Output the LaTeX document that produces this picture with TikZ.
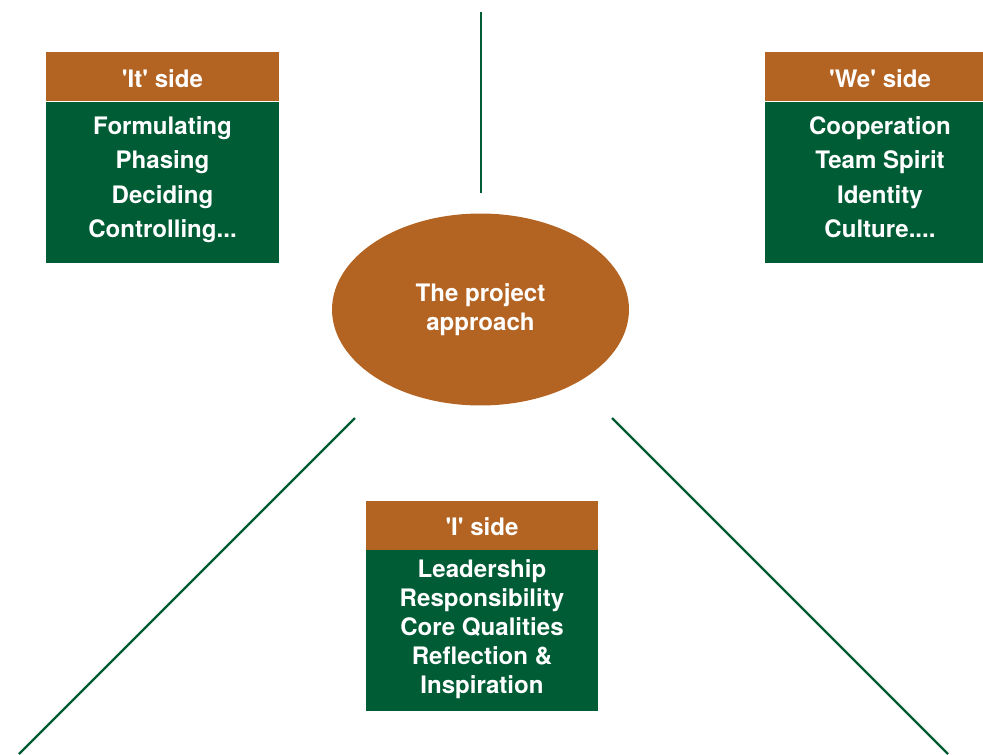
\documentclass[tikz,border=0pt]{standalone}
\usepackage{fontspec}
\setmainfont{TeX Gyre Heros}
\usetikzlibrary{positioning, shapes.geometric}
\definecolor{rust}{HTML}{B36322}
\definecolor{pine}{HTML}{005C35}
\newcommand{\sq}{\textquotesingle}
\tikzset{
side head/.style = { rectangle, fill = rust, text = white, minimum height = 0.98cm, inner sep = 0pt, text height = 12pt, text depth = 0pt, font = \fontsize{13.7}{16}\selectfont\bfseries },
side body/.style = { rectangle, fill = pine, text = white, minimum height = 3.22cm, inner sep = 0pt, align = center, execute at begin node = \strut, execute at end node = \strut, font = \fontsize{13.7}{19.6}\selectfont\bfseries },
core/.style = { ellipse, fill = rust, text = white, minimum width = 5.94cm, minimum height = 3.84cm, align = center, font = \fontsize{13.7}{16.4}\selectfont\bfseries },
axis/.style = { draw = pine, line width = 1.3pt },
}

\begin{document}
\begin{tikzpicture}[x = 0.02cm, y = -0.02cm]
    \useasboundingbox (0, 0) rectangle (983, 754);
    % centre
    \node[core] (approach) at (480.5, 309.5) {The project\\approach};
    % three sides
    \node[side head, minimum width = 4.66cm] (ithead) at (162.5, 76.5) {\sq It\sq{} side};
    \node[side body, minimum width = 4.66cm, below = 0pt of ithead] (itbody) {Formulating\\Phasing\\Deciding\\Controlling...};
    \node[side head, minimum width = 4.6cm] (wehead) at (880, 76.5) {\sq We\sq{} side};
    \node[side body, minimum width = 4.6cm, below = 0pt of wehead] (webody) {Cooperation\\Team Spirit\\Identity\\Culture....};
    \node[side head, minimum width = 4.64cm] (ihead) at (482, 525) {\sq I\sq{} side};
    \node[side body, minimum width = 4.64cm, below = 0pt of ihead, font = \fontsize{13.7}{16.5}\selectfont\bfseries] (ibody) {Leadership\\Responsibility\\Core Qualities\\Reflection \&\\Inspiration};
    % axes
    \coordinate (topend) at (481, 12);
    \coordinate (topstart) at (481, 193);
    \coordinate (leftstart) at (355, 418);
    \coordinate (leftend) at (19, 754);
    \coordinate (rightstart) at (612, 418);
    \coordinate (rightend) at (948, 754);
    \draw[axis] (topstart) -- (topend);
    \draw[axis] (leftstart) -- (leftend);
    \draw[axis] (rightstart) -- (rightend);
\end{tikzpicture}
\end{document}
